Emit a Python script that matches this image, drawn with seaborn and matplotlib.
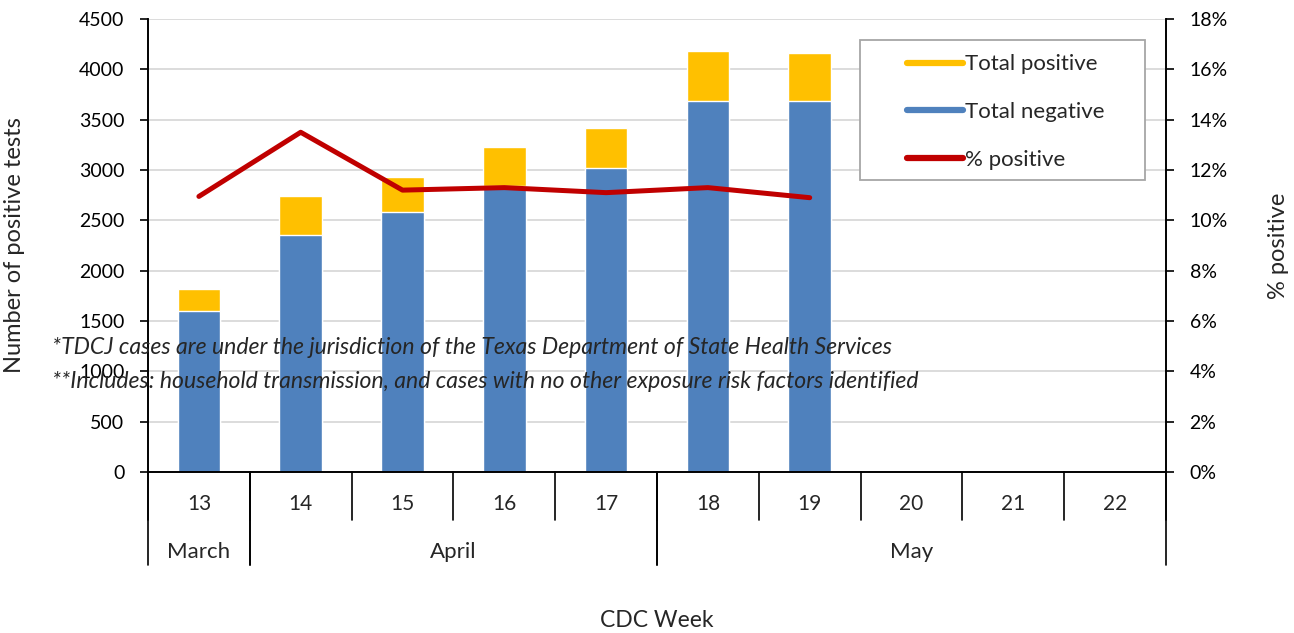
import numpy as np
import pandas as pd
import seaborn as sns
import matplotlib.pyplot as plt
from matplotlib.lines import Line2D
from matplotlib.patches import Rectangle
from matplotlib.ticker import PercentFormatter
import matplotlib.transforms as mtransforms

# data
weeks = ['13', '14', '15', '16', '17', '18', '19', '20', '21', '22']
data_weeks = ['13', '14', '15', '16', '17', '18', '19']
total_negative = [1600, 2355, 2585, 2840, 3020, 3690, 3690]
total_positive = [215, 390, 345, 385, 400, 490, 470]
pct_positive = [10.95, 13.5, 11.2, 11.3, 11.1, 11.3, 10.9]
months = ['March', 'April', 'May']
month_spans = [(0, 0), (1, 4), (5, 9)]   # first and last week index of each month

notes = ["*TDCJ cases are under the jurisdiction of the Texas Department of State Health Services",
         "**Includes: household transmission, and cases with no other exposure risk factors identified"]

yellow = '#FFC000'
blue = '#4F81BD'
red = '#C00000'

sns.set_style("white")
plt.rcParams['font.family'] = ['Lato', 'DejaVu Sans']

df = pd.DataFrame({'week': data_weeks, 'negative': total_negative, 'positive': total_positive})
df['total'] = df['negative'] + df['positive']

fig = plt.figure(figsize=(12.94, 6.33), dpi=100)
ax = fig.add_axes([148 / 1294, 1 - 472 / 633, 1018 / 1294, 453 / 633])

# stacked bars: total (yellow) behind, negative (blue) in front
sns.barplot(data=df, x='week', y='total', order=weeks, color=yellow, width=0.42,
            saturation=1, ax=ax)
sns.barplot(data=df, x='week', y='negative', order=weeks, color=blue, width=0.42,
            saturation=1, ax=ax)

ax.set_xlim(-0.5, 9.5)
ax.set_ylim(0, 4500)
ax.set_yticks(np.arange(0, 4501, 500))
ax.yaxis.grid(True, color='#D9D9D9', lw=1.3)
ax.set_axisbelow(True)
ax.tick_params(axis='y', direction='out', length=6, width=1.2, colors='black',
               labelsize=14, left=True, pad=11)
ax.tick_params(axis='x', length=0, labelbottom=False)
ax.set_xlabel('')
ax.set_ylabel('Number of positive tests', fontsize=17)
ax.yaxis.set_label_coords(-0.121, 0.5)
ax.spines['top'].set_visible(False)
for s in ['left', 'bottom', 'right']:
    ax.spines[s].set_color('black')
    ax.spines[s].set_linewidth(1.2)

# % positive line on the secondary axis
ax2 = ax.twinx()
sns.lineplot(x=list(range(len(pct_positive))), y=pct_positive, ax=ax2, color=red,
             lw=3.6, solid_capstyle='round')
ax2.set_ylim(0, 18)
ax2.set_yticks(np.arange(0, 19, 2))
ax2.yaxis.set_major_formatter(PercentFormatter(decimals=0))
ax2.tick_params(axis='y', direction='out', length=6, width=1.2, colors='black',
                labelsize=14, right=True, pad=11)
ax2.set_ylabel('% positive', fontsize=17)
ax2.yaxis.set_label_coords(1.1, 0.5)
ax2.spines['top'].set_visible(False)
for s in ['left', 'bottom', 'right']:
    ax2.spines[s].set_color('black')
    ax2.spines[s].set_linewidth(1.2)

# two-level category axis
trans = mtransforms.blended_transform_factory(ax.transData, ax.transAxes)
for i, w in enumerate(weeks):
    ax.text(i, -0.071, w, transform=trans, ha='center', va='center', fontsize=15)
for k in range(len(weeks) + 1):
    ax.add_line(Line2D([k - 0.5, k - 0.5], [0, -0.106], transform=trans, color='black',
                       lw=1.2, clip_on=False))
for m, (a, b) in zip(months, month_spans):
    ax.text((a + b) / 2, -0.177, m, transform=trans, ha='center', va='center', fontsize=16)
    for edge in (a - 0.5, b + 0.5):
        ax.add_line(Line2D([edge, edge], [0, -0.205], transform=trans, color='black',
                           lw=1.2, clip_on=False))
ax.text(0.5, -0.327, 'CDC Week', transform=ax.transAxes, ha='center', va='center', fontsize=16.5)

# legend box
box = Rectangle((0.699, 0.645), 0.28, 0.309, transform=ax2.transAxes, facecolor='white',
                edgecolor='#A6A6A6', lw=1.3, zorder=5)
ax2.add_patch(box)
handles = [Line2D([], [], color=yellow, lw=4.5, solid_capstyle='round'),
           Line2D([], [], color=blue, lw=4.5, solid_capstyle='round'),
           Line2D([], [], color=red, lw=4.5, solid_capstyle='round')]
leg = ax2.legend(handles, ['Total positive', 'Total negative', '% positive'],
                 loc='upper left', bbox_to_anchor=(0.7456, 0.922), frameon=False,
                 fontsize=16, handlelength=2.5, handletextpad=0.1, labelspacing=1.25,
                 borderaxespad=0, borderpad=0)
leg.set_zorder(6)

# footnotes
for y, note in zip([347, 382], notes):
    fig.text(52 / 1294, 1 - y / 633, note, ha='left', va='center', fontsize=16.6,
             style='italic')

fig.savefig('out.png', dpi=100)
